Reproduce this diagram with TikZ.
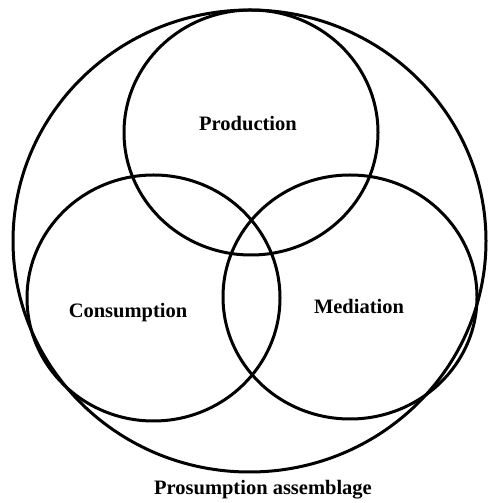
\documentclass[tikz,border=0pt]{standalone}
\usepackage{fontspec}
\setmainfont{Liberation Serif}
\usetikzlibrary{shapes.geometric}

\begin{document}
\begin{tikzpicture}[x=1pt, y=1pt,
  ring/.style={draw, ellipse, line width=3pt, inner sep=0pt},
  setlabel/.style={font=\fontsize{20.5}{24}\selectfont\bfseries}]
  \useasboundingbox (0,0) rectangle (487,503);
  \node (assemblage) [ring, minimum width=473pt, minimum height=462pt] at (249.5,262) {};
  \node (production) [ring, minimum width=254pt, minimum height=245pt] at (251,370.5) {};
  \node (consumption) [ring, minimum width=253pt, minimum height=246pt] at (153.5,205) {};
  \node (mediation) [ring, minimum width=254pt, minimum height=244pt] at (350,206) {};

  \node (prodtext) [setlabel] at (248,379) {Production};
  \node (constext) [setlabel] at (128,190) {Consumption};
  \node (medtext) [setlabel] at (359,197) {Mediation};
  \node (asstext) [setlabel] at (263,13) {Prosumption assemblage};
\end{tikzpicture}
\end{document}
